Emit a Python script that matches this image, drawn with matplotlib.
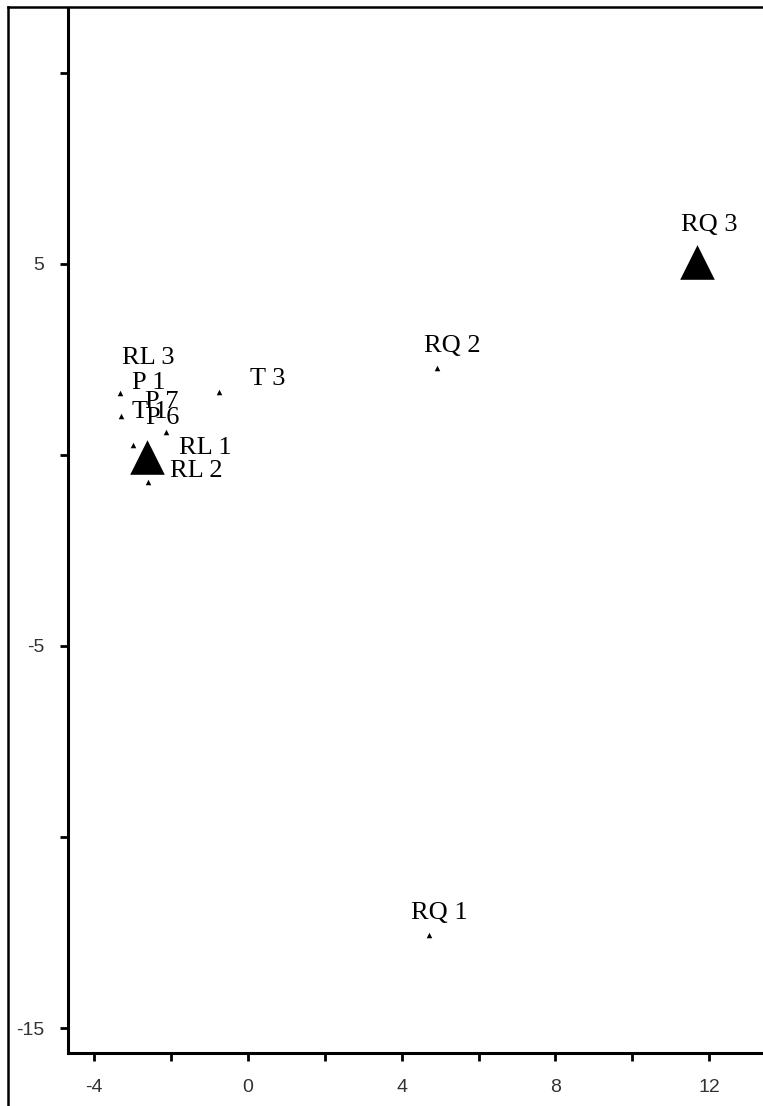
import numpy as np
import matplotlib
matplotlib.use("Agg")
from matplotlib import pyplot as plt
from matplotlib.lines import Line2D

# sample scores
labels = ['RQ 3', 'RQ 2', 'RQ 1', 'T 3', 'RL 3', 'P 1', 'T 1', 'P 7', 'P 6', 'RL 1', 'RL 2']
x_vals = [11.69, 4.91, 4.70, -0.75, -3.32, -3.30, -2.99, -2.13, -2.60, -2.55, -2.60]
y_vals = [5.05, 2.28, -12.57, 1.65, 1.62, 1.02, 0.26, 0.60, -0.05, -0.10, -0.71]
# label offsets in points
label_dx = [8.6, 11.5, 8, 35, 20, 20, 12, -3, 11, 40, 35]
label_dy = [26.6, 16, 16, 9.4, 25, 24, 24, 21.6, 28, 8, 8]

# group centroids
cent_x = [11.69, -2.62]
cent_y = [5.05, -0.05]

x_ticks = [-4, -2, 0, 2, 4, 6, 8, 10, 12]
x_ticklabels = ['-4', '', '0', '', '4', '', '8', '', '12']
y_ticks = [10, 5, 0, -5, -10, -15]
y_ticklabels = ['', '5', '', '-5', '', '-15']

fig = plt.figure(figsize=(7.63, 11.06), dpi=100)
ax = fig.add_axes([0.089, 0.048, 0.911, 0.945])

ax.scatter(cent_x, cent_y, marker='^', s=620, color='black', zorder=3, linewidths=0)
ax.scatter(x_vals, y_vals, marker='^', s=16, color='black', zorder=4, linewidths=0)

for lab, x, y, dx, dy in zip(labels, x_vals, y_vals, label_dx, label_dy):
    ax.annotate(lab, (x, y), xytext=(dx, dy), textcoords='offset points',
                ha='center', va='center', fontsize=19, family='Liberation Serif')

ax.set_xlim(-4.68, 13.4)
ax.set_ylim(-15.65, 11.7)
ax.set_xticks(x_ticks)
ax.set_xticklabels(x_ticklabels)
ax.set_yticks(y_ticks)
ax.set_yticklabels(y_ticklabels)

for side in ['top', 'right']:
    ax.spines[side].set_visible(False)
for side in ['left', 'bottom']:
    ax.spines[side].set_linewidth(2.2)
ax.tick_params(direction='out', length=6, width=2, labelsize=14, colors='black',
               labelcolor='#333333')
ax.tick_params(axis='x', pad=13)
ax.tick_params(axis='y', pad=11)
for t in ax.get_xticklabels() + ax.get_yticklabels():
    t.set_family(['Liberation Sans Narrow', 'Liberation Sans'])

# outer frame, left and top edges
fig.lines.append(Line2D([0.0105, 0.0105], [0.0, 0.9935], transform=fig.transFigure,
                        color='black', linewidth=1.8))
fig.lines.append(Line2D([0.0105, 1.0], [0.9935, 0.9935], transform=fig.transFigure,
                        color='black', linewidth=1.8))

fig.savefig('out.png', dpi=100)
